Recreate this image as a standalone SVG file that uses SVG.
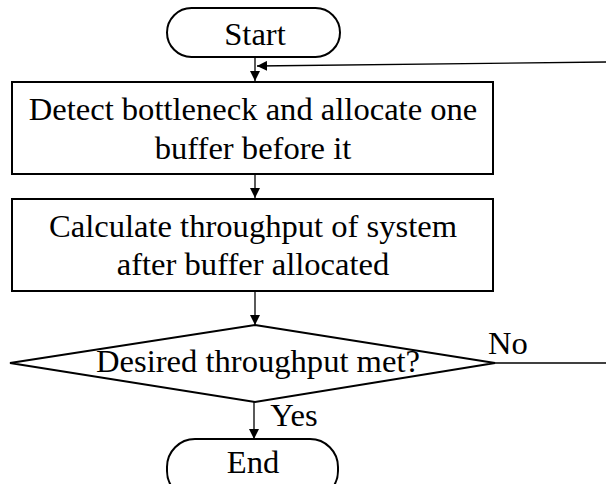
<svg xmlns="http://www.w3.org/2000/svg" width="606" height="484" viewBox="0 0 606 484">
<style>
.s{fill:#fff;stroke:#000;stroke-width:2}
.c{fill:none;stroke:#000;stroke-width:1.3}
</style>
<defs>
<marker id="ah" viewBox="0 0 10 10" refX="10" refY="5" markerWidth="10" markerHeight="10" markerUnits="userSpaceOnUse" orient="auto">
<path d="M0,0 L10,5 L0,10 z" fill="#000"/>
</marker>
</defs>
<g id="connectors">
<line class="c" x1="255" y1="57" x2="255" y2="81" marker-end="url(#ah)"/>
<line class="c" x1="606" y1="62" x2="257" y2="66" stroke="#666" marker-end="url(#ah)"/>
<line class="c" x1="255" y1="174" x2="255" y2="198" marker-end="url(#ah)"/>
<line class="c" x1="255" y1="291" x2="255" y2="325" marker-end="url(#ah)"/>
<line class="c" x1="495" y1="363" x2="606" y2="363"/>
<line class="c" x1="254" y1="402" x2="254" y2="439" marker-end="url(#ah)"/>
<text x="508" y="354" font-family="Liberation Serif" font-size="32.6" text-anchor="middle">No</text>
<text x="294" y="426" font-family="Liberation Serif" font-size="32.6" text-anchor="middle">Yes</text>
</g>
<g id="start">
<rect class="s" x="167" y="8" width="173" height="49" rx="24.5"/>
<text x="255" y="45" font-family="Liberation Serif" font-size="32.6" text-anchor="middle">Start</text>
</g>
<g id="detect">
<rect class="s" x="12" y="82" width="481" height="92"/>
<text x="253" y="120" font-family="Liberation Serif" font-size="32.6" text-anchor="middle">Detect bottleneck and allocate one</text>
<text x="253" y="159" font-family="Liberation Serif" font-size="32.6" text-anchor="middle">buffer before it</text>
</g>
<g id="calculate">
<rect class="s" x="12" y="199" width="481" height="92"/>
<text x="253" y="237" font-family="Liberation Serif" font-size="32.6" text-anchor="middle">Calculate throughput of system</text>
<text x="253" y="275" font-family="Liberation Serif" font-size="32.6" text-anchor="middle">after buffer allocated</text>
</g>
<g id="decision">
<polygon class="s" points="255,325 495,363 255,402 10,363"/>
<text x="258" y="372" font-family="Liberation Serif" font-size="32.6" text-anchor="middle">Desired throughput met?</text>
</g>
<g id="end">
<rect class="s" x="167" y="439" width="171" height="60" rx="28"/>
<text x="253" y="473" font-family="Liberation Serif" font-size="32.6" text-anchor="middle">End</text>
</g>
</svg>
